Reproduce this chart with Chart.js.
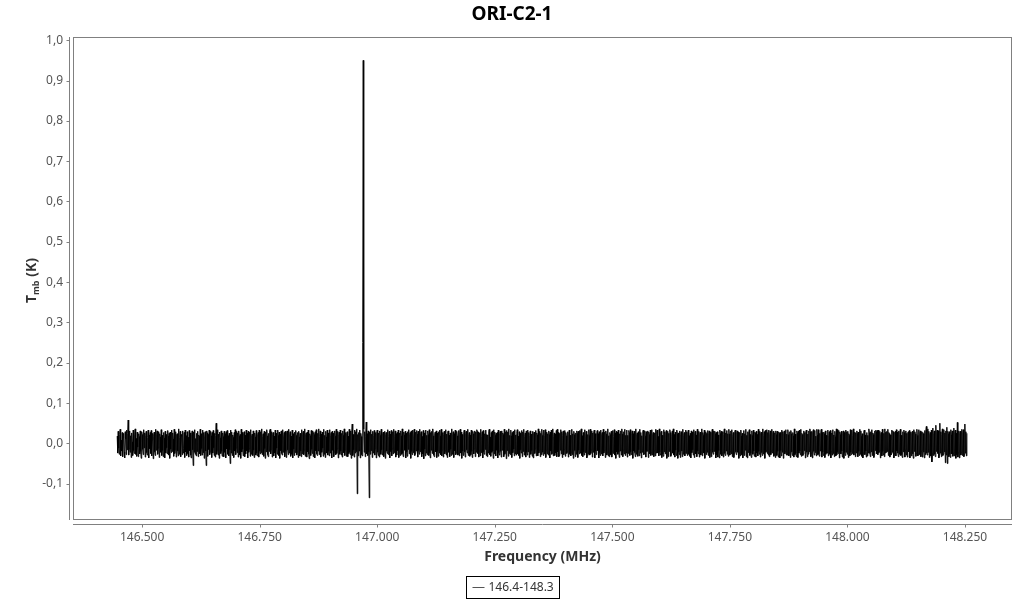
<!DOCTYPE html>
<html>
<head>
<meta charset="utf-8">
<script src="https://cdn.jsdelivr.net/npm/chart.js@4/dist/chart.umd.min.js"></script>
<style>
html,body{margin:0;padding:0;background:#fff;}
canvas{display:block;}
</style>
</head>
<body>
<canvas id="c" width="1024" height="600"></canvas>
<script>
// ---- DATA ----
const chartTitle = "ORI-C2-1";
const seriesName = "146.4-148.3";
const xTicks = [146.5, 146.75, 147.0, 147.25, 147.5, 147.75, 148.0, 148.25];
const yTicks = [-0.1, 0.0, 0.1, 0.2, 0.3, 0.4, 0.5, 0.6, 0.7, 0.8, 0.9, 1.0];
const freqStart = 146.447;   // MHz, first channel
const freqEnd = 148.254;     // MHz, last channel
// Tmb per channel, in mK
const tmbMilliK = [
18,-24,30,-12,-27,22,35,-31,8,-19,27,-33,14,25,-21,-36,29,11,-28,33,
-16,24,58,-29,-14,31,-22,19,-35,26,4,-30,33,-18,-25,21,36,-27,12,-32,
28,-9,-33,24,17,-26,31,-20,-37,29,22,-15,-28,34,-11,26,-34,19,30,-23,
-29,15,33,-36,21,-13,27,-25,32,-31,9,25,-38,18,28,-21,-30,35,-17,23,
31,-27,-12,29,-35,24,16,-22,34,-30,20,-18,-33,27,13,-36,30,-24,22,-11,
-26,32,18,-29,25,-37,28,-14,-23,33,-20,26,11,-32,35,-25,-16,29,-34,21,
24,-19,-31,36,-27,14,30,-33,22,17,-28,31,-24,-12,27,-35,33,-21,19,-30,
29,-25,15,-34,32,-18,26,-29,-36,23,31,-16,-55,28,-22,34,-27,12,-31,25,
-20,30,-33,21,18,-26,35,-30,24,-13,-29,33,-23,27,-37,16,29,-19,-55,31,
26,-32,22,-15,33,-28,-21,30,19,-35,27,-24,32,-11,-30,25,-34,20,50,-27,
-18,34,-29,23,-37,28,14,-25,31,-20,-32,26,17,-33,30,-22,24,-36,29,-14,
32,-27,19,-31,25,-16,-50,33,-24,28,-30,21,15,-35,27,-19,34,-28,-12,30,
-23,26,-34,31,18,-29,22,-37,35,-21,27,-15,-31,24,29,-33,20,-26,33,-18,
25,-36,30,-22,-14,28,-32,34,-27,19,23,-30,31,-17,-35,26,16,-29,32,-24,
-31,21,27,-34,33,-19,-26,29,-23,36,-28,17,24,-32,30,-13,-37,28,-21,34,
19,-28,-33,25,-20,31,35,-26,-15,29,-34,22,27,-31,18,-24,33,-36,25,-12,
-27,33,20,-30,28,-37,23,-18,31,-25,-29,34,-22,16,27,-33,30,-20,-35,26,
31,-16,-28,35,-24,21,29,-32,18,-27,33,-36,24,-14,-30,28,-23,32,20,-29,
-22,27,-35,30,16,-31,25,-19,-33,34,-26,23,30,-28,-17,36,-32,21,26,-34,
28,-21,33,-27,-38,24,19,-30,32,-15,-25,31,-33,27,22,-36,29,-18,34,-26,
-30,25,-19,36,-28,17,31,-34,23,-22,28,-12,-32,35,-27,20,-35,30,16,-24,
33,-29,26,-20,-31,34,-24,19,27,-36,30,-17,25,-33,-22,31,18,-28,35,-25,
-14,30,-36,22,28,-27,33,-19,-29,25,-34,31,20,-23,36,-30,-16,27,-32,24,
29,-33,18,-25,35,-21,-28,31,-37,26,48,-30,22,-16,-34,33,-24,29,-20,36,
-125,22,-31,27,-19,33,-36,25,17,-28,-31,250,950,35,-22,29,-33,18,53,-26,
24,-30,31,-21,-135,28,-27,34,-18,23,-35,30,-24,19,32,-29,-13,27,-36,25,
33,-22,-30,26,-34,31,20,-27,35,-16,-29,24,28,-33,-21,30,-37,22,27,-19,
-25,34,-28,17,30,-36,23,-20,32,-31,-14,29,-26,35,-23,18,31,-34,24,-29,
27,-18,33,-35,-22,26,-30,31,19,-27,36,-24,-33,28,21,-17,30,-36,25,-21,
-32,29,-15,34,-26,22,27,-37,31,-20,-28,33,-23,16,35,-30,-25,28,-19,32,
23,-34,30,-18,-27,35,-21,24,29,-33,17,-26,32,-38,26,-14,-31,33,-24,20,
-28,31,22,-30,34,-23,-36,27,-17,30,-25,36,19,-29,-33,25,28,-21,31,-35,
26,-20,-32,29,-24,33,18,-28,35,-31,-16,27,-34,22,30,-26,-19,34,-29,23,
-35,28,31,-22,20,-33,26,-15,-30,36,-27,21,29,-35,24,-18,33,-28,-23,30,
19,-29,-26,32,-31,23,35,-24,28,-37,22,-19,-30,27,33,-21,-34,25,30,-16,
-24,35,-30,18,27,-32,21,-28,33,-20,-35,30,24,-26,-13,31,-33,28,-22,34,
30,-25,28,-34,-19,26,-31,35,-23,17,29,-36,32,-21,-27,24,-15,33,-30,22,
-33,21,-24,30,35,-28,16,-32,27,-22,31,-19,-37,34,-26,28,20,-31,25,-17,
27,-36,33,-23,-29,24,30,-20,-34,31,-17,26,22,-33,35,-27,-21,29,-38,32,
-18,28,-32,36,-25,20,-28,33,19,-35,27,-23,30,-14,-31,34,-26,21,-29,25,
34,-26,18,-30,29,-37,25,-16,-24,32,-33,28,-20,35,-29,17,26,-34,31,-22,
-29,33,-21,27,-35,19,31,-27,23,-18,-32,30,-36,24,28,-25,-13,32,-31,26,
21,-31,36,-24,-18,30,-33,25,-28,35,20,-22,-30,33,-26,19,34,-35,-17,28,
-26,24,-29,31,22,-36,28,-19,33,-27,-23,36,-31,17,26,-30,23,-24,32,-33,
35,-21,27,-33,-30,25,-17,34,-26,29,-35,20,31,-28,-15,32,-32,27,19,-25,
-20,29,-34,23,33,-27,20,-31,-22,35,-28,24,-37,30,22,-18,-33,26,-27,31,
25,-35,30,-17,-26,32,-24,28,36,-30,19,-33,27,-21,-29,34,-23,18,30,-36,
-31,22,-27,34,20,-29,35,-25,-16,31,-34,26,-22,29,33,-36,24,-19,-28,27,
32,-18,24,-36,29,-23,-30,33,-26,21,27,-31,35,-24,-18,28,-35,31,23,-29,
-23,36,-31,19,-33,27,22,-28,30,-34,-20,32,-25,17,34,-29,26,-37,30,-21,
28,-27,33,-22,-35,24,-19,31,-29,36,23,-33,-17,29,-26,35,-30,20,-24,33,
-34,20,-25,32,27,-30,34,-21,-28,25,31,-37,24,-19,30,-23,-33,36,-27,22,
26,-32,29,-16,-31,35,-24,27,-36,19,-22,30,33,-28,-25,31,18,-34,29,-20,
-19,31,-35,28,22,-26,33,-30,-23,34,-29,21,27,-33,-18,26,-31,35,-24,30,
33,-24,17,-31,36,-22,-29,26,30,-35,20,-27,-32,34,-21,29,-26,23,32,-37,
-28,30,-33,25,-20,34,27,-32,-26,18,31,-24,36,-29,22,-34,28,-17,-30,33,
24,-37,26,-21,-28,31,-35,22,29,-19,-33,35,-27,20,27,-31,-22,33,-25,29,
-30,23,33,-27,19,-32,25,-36,31,-23,28,-16,-29,34,-35,24,30,-26,21,-33,
35,-19,-26,30,-34,23,28,-29,-21,36,-31,27,20,-24,33,-37,-18,29,-28,25,
-22,32,-30,24,31,-35,-17,28,-33,26,35,-22,-27,31,-20,30,24,-36,27,-29,
29,-34,21,-18,-36,33,25,-27,30,-31,-24,29,-34,22,36,-25,-30,26,-19,32,
-27,24,-32,35,23,-29,-20,31,-26,34,-33,18,27,-35,-23,30,33,-21,-28,26,
31,-22,28,-37,-24,27,-31,33,19,-28,25,-36,-21,32,-30,24,-17,35,-33,20,
-36,29,-23,26,34,-30,22,-25,-35,31,20,-27,33,-19,-32,28,26,-34,30,-24,
22,-31,35,-20,-27,30,-34,25,28,-23,-30,36,-26,19,29,-37,32,-22,-18,34,
-25,27,-29,33,-33,21,31,-28,-19,35,-24,23,30,-32,-27,26,-35,31,22,-30,
30,-20,-34,28,25,-36,27,-18,-31,33,-22,29,-37,24,31,-26,-20,34,-29,23,
-29,34,22,-31,-23,29,-35,32,24,-21,-30,27,19,-34,36,-28,23,-25,-33,31,
26,-35,30,-24,33,-19,-28,35,-32,25,22,-30,-26,31,-18,27,-36,29,33,-22,
-33,23,-27,31,-21,36,29,-33,-24,30,-36,26,34,-20,-29,32,-23,18,-31,35,
21,-28,34,-26,-32,25,-19,30,35,-34,27,-22,-30,28,24,-35,31,-27,20,-24,
-24,33,-31,19,29,-27,32,-36,-20,26,-29,34,-25,21,-33,30,17,-31,36,-28,
34,-21,-25,32,-36,28,22,-26,30,-19,-34,25,31,-37,27,-23,-30,33,-22,29,
-27,30,-35,24,20,-31,34,-22,-28,33,-25,19,36,-29,-21,28,-33,26,-24,31,
25,-33,28,-20,-30,35,-27,31,18,-32,24,-36,-23,30,33,-28,21,-19,-34,27,
-31,20,-24,36,27,-25,-33,29,-21,34,-30,26,22,-35,-27,31,-18,33,29,-26,
32,-28,33,-23,-19,30,-36,22,27,-31,35,-20,-29,25,-33,36,-24,28,-22,30,
-20,35,-30,27,24,-34,21,-29,-26,33,-22,31,28,-36,-25,26,30,-31,34,-19,
28,-24,-33,31,-27,22,35,-30,20,-28,-35,29,-21,33,27,-34,-16,31,-29,25,
-34,27,29,-21,32,-36,-23,28,-31,24,30,-26,-37,34,-20,29,23,-32,-25,35,
20,-31,-26,34,-28,25,31,-33,-19,29,-34,27,24,-22,-36,32,-28,30,42,-24,
-29,36,-22,30,-35,21,27,-31,33,-46,-25,38,-30,24,31,-27,-33,45,-20,28,
33,-25,31,-36,-28,50,-24,29,-33,22,36,-30,-27,34,-21,26,-48,31,-29,40,
-50,30,24,-33,29,-27,-35,34,22,-26,31,-32,-24,38,-31,27,33,-37,25,-28,
52,-34,-23,31,-36,25,30,-29,-22,35,-30,26,34,-33,-27,48,-24,29,-31,25
];

// ---- BUILD ----
const chanWidth = (freqEnd - freqStart) / (tmbMilliK.length - 1);
const points = tmbMilliK.map((v, i) => ({ x: freqStart + i * chanWidth, y: v / 1000 }));

const AXIS_GREY = '#808080';
const TEXT_GREY = '#555555';
const FONT = '"Noto Sans", "Open Sans", sans-serif';

const decor = {
  id: 'decor',
  afterDraw(chart) {
    const ctx = chart.ctx;
    const a = chart.chartArea;
    const xs = chart.scales.x, ys = chart.scales.y;
    ctx.save();
    ctx.strokeStyle = AXIS_GREY;
    ctx.lineWidth = 1;
    ctx.strokeRect(a.left + 0.5, a.top + 0.5, a.right - a.left - 1, a.bottom - a.top - 1);
    const yAxX = a.left - 3.5;
    ctx.beginPath();
    ctx.moveTo(yAxX, a.top);
    ctx.lineTo(yAxX, a.bottom);
    yTicks.forEach(t => {
      const py = Math.round(ys.getPixelForValue(t)) + 0.5;
      ctx.moveTo(yAxX - 3, py);
      ctx.lineTo(yAxX, py);
    });
    const xAxY = a.bottom + 4.5;
    ctx.moveTo(a.left, xAxY);
    ctx.lineTo(a.right, xAxY);
    xTicks.forEach(t => {
      const px = Math.round(xs.getPixelForValue(t)) + 0.5;
      ctx.moveTo(px, xAxY);
      ctx.lineTo(px, xAxY + 3);
    });
    ctx.stroke();

    ctx.fillStyle = '#000';
    ctx.font = 'bold 19px ' + FONT;
    ctx.textAlign = 'center';
    ctx.textBaseline = 'middle';
    ctx.fillText(chartTitle, 512, 15);

    ctx.fillStyle = '#333';
    ctx.font = 'bold 14px ' + FONT;
    ctx.fillText('Frequency (MHz)', (a.left + a.right) / 2, 557);

    ctx.save();
    ctx.translate(31, (a.top + a.bottom) / 2 + 2);
    ctx.rotate(-Math.PI / 2);
    const bigF = 'bold 14px ' + FONT, smallF = 'bold 9px ' + FONT;
    ctx.font = bigF; const wT = ctx.measureText('T').width;
    ctx.font = smallF; const wS = ctx.measureText('mb').width;
    ctx.font = bigF; const wK = ctx.measureText(' (K)').width;
    let x0 = -(wT + wS + wK) / 2;
    ctx.textAlign = 'left';
    ctx.textBaseline = 'alphabetic';
    ctx.font = bigF; ctx.fillText('T', x0, 5);
    ctx.font = smallF; ctx.fillText('mb', x0 + wT, 8);
    ctx.font = bigF; ctx.fillText(' (K)', x0 + wT + wS, 5);
    ctx.restore();

    ctx.font = '12px ' + FONT;
    const tw = ctx.measureText(seriesName).width;
    const boxW = Math.round(tw + 28), boxH = 22;
    const bx = Math.round(512 - boxW / 2) + 0.5, by = 576.5;
    ctx.strokeStyle = '#000';
    ctx.strokeRect(bx, by, boxW, boxH);
    ctx.strokeStyle = '#555';
    ctx.beginPath();
    ctx.moveTo(bx + 6, by + 11);
    ctx.lineTo(bx + 18, by + 11);
    ctx.stroke();
    ctx.fillStyle = '#333';
    ctx.textAlign = 'left';
    ctx.textBaseline = 'middle';
    ctx.fillText(seriesName, bx + 22, by + 11.5);
    ctx.restore();
  }
};

new Chart(document.getElementById('c'), {
  type: 'scatter',
  data: {
    datasets: [{
      label: seriesName,
      data: points,
      showLine: true,
      borderColor: '#000',
      borderWidth: 1,
      pointRadius: 0,
      tension: 0,
      fill: false
    }]
  },
  options: {
    responsive: false,
    animation: false,
    devicePixelRatio: 1,
    layout: { padding: { top: 37, right: 12, left: 0, bottom: 0 } },
    plugins: {
      legend: { display: false },
      title: { display: false },
      tooltip: { enabled: false }
    },
    scales: {
      x: {
        type: 'linear',
        min: 146.353,
        max: 148.35,
        grid: { display: false, drawTicks: false },
        border: { display: false },
        afterFit(s) { s.height = 80; },
        afterBuildTicks(s) { s.ticks = xTicks.map(v => ({ value: v })); },
        ticks: {
          autoSkip: false,
          maxRotation: 0,
          padding: 10,
          color: TEXT_GREY,
          font: { family: FONT, size: 12 },
          callback: v => Number(v).toFixed(3)
        }
      },
      y: {
        type: 'linear',
        min: -0.19,
        max: 1.008,
        grid: { display: false, drawTicks: false },
        border: { display: false },
        afterFit(s) { s.width = 73; },
        afterBuildTicks(s) { s.ticks = yTicks.map(v => ({ value: v })); },
        ticks: {
          autoSkip: false,
          padding: 10,
          color: TEXT_GREY,
          font: { family: FONT, size: 12 },
          callback: v => Number(v).toFixed(1).replace('.', ',')
        }
      }
    }
  },
  plugins: [decor]
});
</script>
</body>
</html>
